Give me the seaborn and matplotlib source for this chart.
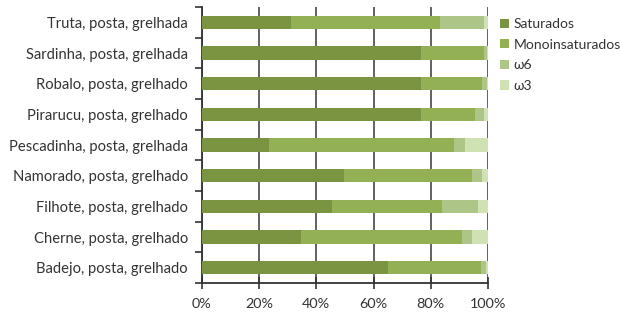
import numpy as np
import pandas as pd
import matplotlib
matplotlib.use("Agg")
import matplotlib.pyplot as plt
import seaborn as sns
from matplotlib.patches import Patch
from matplotlib.ticker import FixedLocator, PercentFormatter

categories = [
    "Truta, posta, grelhada",
    "Sardinha, posta, grelhada",
    "Robalo, posta, grelhado",
    "Pirarucu, posta, grelhado",
    "Pescadinha, posta, grelhada",
    "Namorado, posta, grelhado",
    "Filhote, posta, grelhado",
    "Cherne, posta, grelhado",
    "Badejo, posta, grelhado",
]
saturados = [31.2, 76.6, 76.6, 76.6, 23.3, 49.7, 45.3, 34.6, 65.0]
monoinsaturados = [51.9, 22.0, 21.3, 18.8, 64.9, 44.7, 38.5, 56.5, 32.6]
omega6 = [15.4, 1.1, 1.8, 3.1, 3.8, 3.5, 12.6, 3.3, 1.8]
omega3 = [1.5, 0.3, 0.3, 1.5, 8.0, 2.1, 3.6, 5.6, 0.6]
series_names = ["Saturados", "Monoinsaturados", "\u03c96", "\u03c93"]
colors = ["#7a9442", "#94b055", "#adc688", "#d0e2b4"]
xticks = [0, 20, 40, 60, 80, 100]

sns.set_theme(style="white")
plt.rcParams["font.family"] = ["Lato", "DejaVu Sans"]

df = pd.DataFrame({"cat": categories, "s": saturados, "m": monoinsaturados,
                   "o6": omega6, "o3": omega3})
cum = df[["s", "m", "o6", "o3"]].cumsum(axis=1)

fig = plt.figure(figsize=(6.2, 3.13), dpi=100)
ax = fig.add_axes([0.3258, 0.0958, 0.787 - 0.3258, 0.9776 - 0.0958])

for col, color in zip(["o3", "o6", "m", "s"], colors[::-1]):
    sns.barplot(x=cum[col], y=df["cat"], color=color, orient="h", width=0.43,
                ax=ax, saturation=1, zorder=3, linewidth=0)

ax.set_xlim(0, 100)
ax.set_ylim(len(categories) - 0.5, -0.5)
ax.set_xlabel("")
ax.set_ylabel("")
ax.xaxis.set_major_locator(FixedLocator(xticks))
ax.xaxis.set_major_formatter(PercentFormatter(decimals=0))
ax.grid(axis="x", color="#555555", linewidth=1.3, zorder=0)
ax.set_axisbelow(True)
for s in ["top", "right"]:
    ax.spines[s].set_visible(False)
for s in ["left", "bottom"]:
    ax.spines[s].set_color("#333333")
    ax.spines[s].set_linewidth(1.3)

ax.tick_params(axis="x", direction="inout", length=8, width=1.2, color="#333333",
               labelsize=10.4, labelcolor="#333333", pad=7, bottom=True)
ax.tick_params(axis="y", which="major", length=0, labelsize=10.6,
               labelcolor="#333333", pad=10)
ax.yaxis.set_minor_locator(FixedLocator(np.arange(-0.5, len(categories), 1.0)))
ax.tick_params(axis="y", which="minor", direction="out", length=5, width=1.2,
               color="#333333", left=True)

handles = [Patch(facecolor=c, edgecolor="none", label=n) for n, c in zip(series_names, colors)]
fig.legend(handles=handles, loc="upper left", bbox_to_anchor=(0.798, 0.96),
           frameon=False, fontsize=10, handlelength=0.65, handleheight=0.65,
           handletextpad=0.3, labelspacing=0.62, borderaxespad=0,
           labelcolor="#333333")

fig.savefig("out.png", dpi=100)
